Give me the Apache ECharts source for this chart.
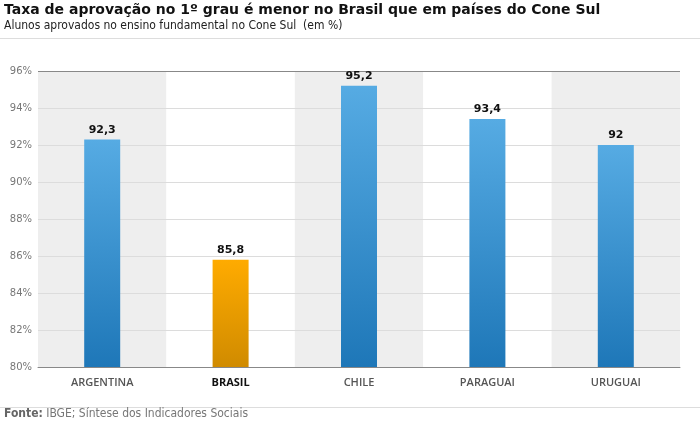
<!DOCTYPE html>
<html>
<head>
<meta charset="utf-8">
<script src="https://cdn.jsdelivr.net/npm/echarts@6/dist/echarts.min.js"></script>
<style>
  html, body { margin: 0; padding: 0; background: #fff; }
  #chart { width: 700px; height: 426px; }
</style>
</head>
<body>
<div id="chart"></div>
<script>
var paises = ['ARGENTINA', 'BRASIL', 'CHILE', 'PARAGUAI', 'URUGUAI'];
var aprovacao = [92.3, 85.8, 95.2, 93.4, 92];
var destaque = 'BRASIL';

var azul = new echarts.graphic.LinearGradient(0, 0, 0, 1, [
    {offset: 0, color: '#56abe3'},
    {offset: 1, color: '#1e77b8'}
]);
var laranja = new echarts.graphic.LinearGradient(0, 0, 0, 1, [
    {offset: 0, color: '#ffab00'},
    {offset: 1, color: '#d08b00'}
]);

var dados = [];
for (var i = 0; i < paises.length; i++) {
    dados.push({
        value: aprovacao[i],
        itemStyle: {color: paises[i] === destaque ? laranja : azul}
    });
}

var chart = echarts.init(document.getElementById('chart'));

var opt = {
    animation: false,
    grid: {left: 38, right: 20, top: 71, bottom: 59},
    graphic: [
        {type: 'text', left: 4, top: 3, style: {text: 'Taxa de aprovação no 1º grau é menor no Brasil que em países do Cone Sul', font: 'bold 14px "DejaVu Sans"', fill: '#111'}},
        {type: 'text', left: 4, top: 20, style: {text: 'Alunos aprovados no ensino fundamental no Cone Sul  (em %)', font: '12px "DejaVu Sans Condensed"', fill: '#222'}},
        {type: 'rect', shape: {x: 0, y: 38, width: 700, height: 1}, style: {fill: '#dddddd'}},
        {type: 'rect', shape: {x: 0, y: 407, width: 700, height: 1}, style: {fill: '#dddddd'}},
        {type: 'text', left: 4, top: 408, style: {
            text: '{b|Fonte:} IBGE; Síntese dos Indicadores Sociais',
            font: '12px "DejaVu Sans Condensed"', fill: '#777',
            rich: {b: {font: 'bold 12px "DejaVu Sans Condensed"', fill: '#666'}}
        }}
    ],
    xAxis: {
        type: 'category',
        data: paises,
        z: 0,
        axisLine: {lineStyle: {color: '#888'}},
        axisTick: {show: false},
        axisLabel: {
            margin: 10,
            fontFamily: 'Open Sans',
            fontSize: 11,
            fontWeight: 600,
            color: '#555',
            formatter: function (v) {
                return v === destaque ? '{d|' + v + '}' : v;
            },
            rich: {d: {fontFamily: 'Open Sans', fontSize: 11, fontWeight: 'bold', color: '#111'}}
        },
        splitArea: {show: true, areaStyle: {color: ['#eeeeee', '#ffffff']}}
    },
    yAxis: {
        type: 'value',
        min: 80,
        max: 96,
        interval: 2,
        z: 1,
        axisLine: {show: false},
        axisTick: {show: false},
        axisLabel: {
            margin: 6,
            fontFamily: 'DejaVu Sans',
            fontSize: 10,
            color: '#777',
            formatter: '{value}%'
        },
        splitLine: {lineStyle: {color: ['#888', '#dcdcdc', '#dcdcdc', '#dcdcdc', '#dcdcdc', '#dcdcdc', '#dcdcdc', '#dcdcdc', '#888']}}
    },
    series: [{
        type: 'bar',
        data: dados,
        barWidth: 36,
        label: {
            show: true,
            position: 'top',
            distance: 4,
            fontFamily: 'DejaVu Sans',
            fontSize: 11,
            fontWeight: 'bold',
            color: '#111',
            formatter: function (p) {
                return String(p.value).replace('.', ',');
            }
        }
    }]
};

chart.setOption(opt);
</script>
</body>
</html>
